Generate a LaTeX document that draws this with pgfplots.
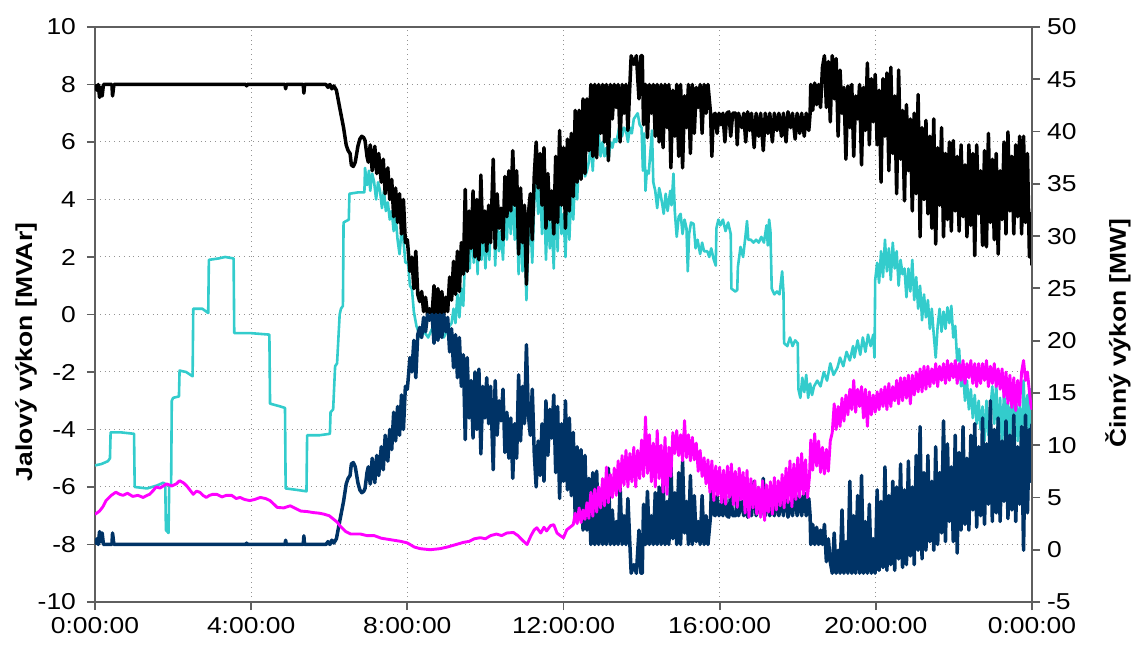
\documentclass[border=0pt]{standalone}
\usepackage{fontspec}
\setmainfont{Liberation Sans}[FakeStretch=1.15]
\usepackage{pgfplots}
\pgfplotsset{compat=1.18}
\usepackage{pgfplotstable}
\definecolor{cyanL}{RGB}{51,204,204}
\definecolor{navyL}{RGB}{0,51,102}
\definecolor{magL}{RGB}{255,0,255}
\definecolor{axgray}{RGB}{95,95,95}

\pgfplotstableread{
t v
0 8
3 7.8
5 8
7 7.55
9 7.9
11 7.6
13 8
26 8
27 7.6
29 8
232 8
233 7.95
234 8
292 8
293 7.85
294 8
320 8
321 7.7
322 8
355 8
358 7.9
361 8
364 7.85
367 7.95
371 7.8
376 7.2
382 6.5
386 5.9
389 5.7
392 5.6
394 5.2
397 5.15
400 5.3
404 5.85
407 6.1
410 6.2
413 6.15
415 6.05
418 5.5
420 5.3
423 5.9
426 5.0
430 5.85
433 4.9
436 5.6
440 4.6
443 5.4
446 4.2
450 5.1
453 4.0
456 4.7
459 3.4
462 4.4
465 3.2
468 4.2
471 2.8
474 4.0
477 2.5
480 2.6
484 1.5
487 2.0
490 0.9
493 2.2
496 0.7
499 0.45
502 0.8
505 0.1
508 0.6
511 0
514 0.2
518 0
521 1.0
524 0
527 0.9
530 0
533 0.8
536 0
539 0.6
542 0.1
545 1.3
548 0.5
551 1.85
554 0.7
557 2.2
560 0.8
563 2.5
566 1.4
569 4.35
572 1.5
575 3.6
578 2.3
581 4.3
584 2.0
587 4.0
590 1.9
593 4.85
596 2.5
599 3.6
602 2.2
605 3.8
608 2.5
612 5.4
615 2.3
618 4.2
621 3.0
624 3.7
627 2.6
630 4.8
633 3.4
636 5.0
639 3.6
642 5.7
645 3.8
648 5.0
651 2.1
654 4.4
657 2.5
660 3.8
663 1.05
666 3.5
669 4.2
672 2.6
675 4.8
678 6.0
681 4.4
684 5.6
687 3.8
690 5.8
693 3.0
696 4.9
699 3.3
702 4.3
705 2.8
708 5.5
711 3.2
714 6.4
717 3.8
720 5.8
723 3.0
726 6.1
729 3.6
732 6.3
735 4.1
738 7.1
741 4.6
744 7.1
747 4.7
750 7.5
753 4.9
756 7.5
759 5.7
762 8.0
765 5.5
768 8.0
771 5.45
774 8.0
777 6.3
780 8.0
783 6.0
786 8.0
789 5.35
792 8.0
795 6.8
798 8.0
801 7.2
804 8.0
807 6.0
810 8.0
813 7.0
816 8.0
819 6.4
822 8.0
824 9.0
828 8.7
832 9.0
836 7.5
839 9.0
841 9.0
843 6.6
846 8.0
849 6.15
852 8.0
855 7.0
858 8.0
861 6.2
864 8.0
867 6.0
870 8.0
873 5.8
876 8.0
879 6.5
882 8.0
885 5.1
888 7.8
891 6.2
894 8.0
897 5.5
900 8.0
903 5.1
906 7.6
909 6.5
912 8.0
915 5.6
918 8.0
921 6.3
924 7.9
927 7.2
930 8.0
933 6.3
936 8.0
939 7.0
942 8.0
944 7.5
946 7.0
948 5.5
950 6.9
953 7.0
956 6.3
959 7.0
962 6.6
965 7.0
968 6.0
971 7.0
974 7.05
977 6.2
980 7.0
985 7.0
987 5.9
989 7.0
994 6.5
997 7.0
1000 6.0
1003 7.05
1006 6.4
1009 7.0
1013 5.8
1016 7.0
1020 6.2
1023 7.0
1027 5.7
1030 7.0
1034 6.3
1037 7.0
1041 6.0
1044 7.0
1048 6.4
1051 7.0
1055 6.2
1058 7.0
1062 6.0
1065 7.05
1069 6.5
1072 7.0
1076 6.1
1079 7.0
1083 6.3
1086 7.0
1090 6.2
1093 7.0
1097 6.4
1099 7.0
1100 8.0
1103 7.1
1106 8.05
1109 7.3
1112 8.0
1115 7.2
1118 8.6
1121 9.0
1124 7.2
1127 8.8
1130 6.7
1133 9.0
1136 7.5
1139 8.9
1142 6.2
1145 8.5
1148 7.0
1151 7.9
1154 5.4
1157 7.95
1160 6.5
1163 8.0
1166 5.5
1169 7.6
1172 6.8
1175 8.0
1178 5.2
1181 7.9
1184 6.4
1187 8.75
1190 5.9
1193 8.2
1196 6.7
1199 8.35
1202 5.9
1205 7.8
1208 4.6
1211 8.2
1214 6.2
1217 8.4
1220 5.0
1223 8.6
1226 5.6
1229 7.6
1232 4.2
1235 8.5
1238 5.4
1241 7.1
1244 3.95
1247 7.3
1250 5.0
1253 6.8
1256 3.6
1259 7.0
1262 4.2
1265 7.65
1268 2.7
1271 6.5
1274 4.0
1277 6.75
1280 3.5
1283 6.2
1286 3.0
1289 6.8
1292 2.45
1295 5.8
1298 3.8
1301 6.5
1304 2.7
1307 5.6
1310 3.3
1313 6.0
1316 2.9
1319 6.05
1322 3.6
1325 5.5
1328 2.9
1331 5.9
1334 3.4
1337 5.2
1340 2.7
1343 5.9
1346 3.1
1349 5.6
1352 2.05
1355 5.9
1358 3.5
1361 5.0
1364 2.4
1367 5.7
1370 2.35
1373 6.3
1376 3.2
1379 5.4
1382 2.6
1385 5.6
1388 2.1
1391 5.0
1394 3.3
1397 6.0
1400 2.8
1403 6.35
1406 3.6
1409 5.5
1412 2.8
1415 5.9
1418 3.4
1421 6.2
1424 2.8
1427 6.2
1430 3.2
1433 5.6
1436 2.0
1438 3.5
1440 1.7
}\tblack

\pgfplotstableread{
t v
0 -8
3 -7.8
5 -8
7 -7.55
9 -7.9
11 -7.6
13 -8
26 -8
27 -7.6
29 -8
232 -8
233 -7.95
234 -8
292 -8
293 -7.85
294 -8
320 -8
321 -7.7
322 -8
355 -8
358 -7.9
361 -8
364 -7.85
367 -7.95
371 -7.8
376 -7.2
382 -6.5
386 -5.9
389 -5.7
392 -5.6
394 -5.2
397 -5.15
400 -5.3
404 -5.85
407 -6.1
410 -6.2
413 -6.15
415 -6.05
418 -5.5
420 -5.3
423 -5.9
426 -5.0
430 -5.85
433 -4.9
436 -5.6
440 -4.6
443 -5.4
446 -4.2
450 -5.1
453 -4.0
456 -4.7
459 -3.4
462 -4.4
465 -3.2
468 -4.2
471 -2.8
474 -4.0
477 -2.5
480 -2.6
484 -1.5
487 -2.0
490 -0.9
493 -2.2
496 -0.7
499 -0.45
502 -0.8
505 -0.1
508 -0.6
511 0
514 -0.2
518 0
521 -1.0
524 0
527 -0.9
530 0
533 -0.8
536 0
539 -0.6
542 -0.1
545 -1.3
548 -0.5
551 -1.85
554 -0.7
557 -2.2
560 -0.8
563 -2.5
566 -1.4
569 -4.35
572 -1.5
575 -3.6
578 -2.3
581 -4.3
584 -2.0
587 -4.0
590 -1.9
593 -4.85
596 -2.5
599 -3.6
602 -2.2
605 -3.8
608 -2.5
612 -5.4
615 -2.3
618 -4.2
621 -3.0
624 -3.7
627 -2.6
630 -4.8
633 -3.4
636 -5.0
639 -3.6
642 -5.7
645 -3.8
648 -5.0
651 -2.1
654 -4.4
657 -2.5
660 -3.8
663 -1.05
666 -3.5
669 -4.2
672 -2.6
675 -4.8
678 -6.0
681 -4.4
684 -5.6
687 -3.8
690 -5.8
693 -3.0
696 -4.9
699 -3.3
702 -4.3
705 -2.8
708 -5.5
711 -3.2
714 -6.4
717 -3.8
720 -5.8
723 -3.0
726 -6.1
729 -3.6
732 -6.3
735 -4.1
738 -7.1
741 -4.6
744 -7.1
747 -4.7
750 -7.5
753 -4.9
756 -7.5
759 -5.7
762 -8.0
765 -5.5
768 -8.0
771 -5.45
774 -8.0
777 -6.3
780 -8.0
783 -6.0
786 -8.0
789 -5.35
792 -8.0
795 -6.8
798 -8.0
801 -7.2
804 -8.0
807 -6.0
810 -8.0
813 -7.0
816 -8.0
819 -6.4
822 -8.0
824 -9.0
828 -8.7
832 -9.0
836 -7.5
839 -9.0
841 -9.0
843 -6.6
846 -8.0
849 -6.15
852 -8.0
855 -7.0
858 -8.0
861 -6.2
864 -8.0
867 -6.0
870 -8.0
873 -5.8
876 -8.0
879 -6.5
882 -8.0
885 -5.1
888 -7.8
891 -6.2
894 -8.0
897 -5.5
900 -8.0
903 -5.1
906 -7.6
909 -6.5
912 -8.0
915 -5.6
918 -8.0
921 -6.3
924 -7.9
927 -7.2
930 -8.0
933 -6.3
936 -8.0
939 -7.0
942 -8.0
944 -7.5
946 -7.0
948 -5.5
950 -6.9
953 -7.0
956 -6.3
959 -7.0
962 -6.6
965 -7.0
968 -6.0
971 -7.0
974 -7.05
977 -6.2
980 -7.0
985 -7.0
987 -5.9
989 -7.0
994 -6.5
997 -7.0
1000 -6.0
1003 -7.05
1006 -6.4
1009 -7.0
1013 -5.8
1016 -7.0
1020 -6.2
1023 -7.0
1027 -5.7
1030 -7.0
1034 -6.3
1037 -7.0
1041 -6.0
1044 -7.0
1048 -6.4
1051 -7.0
1055 -6.2
1058 -7.0
1062 -6.0
1065 -7.05
1069 -6.5
1072 -7.0
1076 -6.1
1079 -7.0
1083 -6.3
1086 -7.0
1090 -6.2
1093 -7.0
1097 -6.4
1099 -7.0
1100 -8.0
1103 -7.3
1106 -8.0
1109 -7.4
1112 -8.0
1115 -7.5
1118 -8.0
1121 -7.3
1124 -8.6
1127 -7.8
1130 -8.6
1133 -9.0
1136 -7.6
1139 -9.0
1142 -8.2
1145 -9.0
1148 -6.8
1151 -9.0
1154 -7.9
1157 -9.0
1160 -5.8
1163 -9.0
1166 -7.0
1169 -9.0
1172 -6.3
1175 -9.0
1178 -5.6
1181 -9.0
1184 -7.2
1187 -9.0
1190 -6.6
1193 -9.0
1196 -7.8
1199 -9.0
1202 -6.1
1205 -8.9
1208 -6.5
1211 -8.8
1214 -5.3
1217 -8.9
1220 -6.3
1223 -8.7
1226 -5.8
1229 -8.9
1232 -6.0
1235 -8.5
1238 -5.2
1241 -8.8
1244 -6.1
1247 -8.7
1250 -5.1
1253 -8.4
1256 -6.0
1259 -8.7
1262 -4.9
1265 -8.2
1268 -3.9
1271 -8.5
1274 -5.5
1277 -8.2
1280 -4.9
1283 -7.9
1286 -5.8
1289 -8.2
1292 -4.6
1295 -8.0
1298 -5.5
1301 -7.6
1304 -3.7
1307 -7.9
1310 -4.5
1313 -7.2
1316 -5.3
1319 -7.9
1322 -4.2
1325 -8.3
1328 -4.8
1331 -7.5
1334 -3.9
1337 -7.3
1340 -5.0
1343 -7.5
1346 -4.2
1349 -6.8
1352 -3.8
1355 -7.4
1358 -4.6
1361 -7.0
1364 -3.6
1367 -7.3
1370 -4.5
1373 -6.6
1376 -3.0
1379 -7.2
1382 -4.0
1385 -6.9
1388 -3.6
1391 -7.2
1394 -4.4
1397 -6.5
1400 -3.7
1403 -7.1
1406 -4.2
1409 -6.8
1412 -3.5
1415 -7.2
1418 -4.6
1421 -6.6
1424 -3.9
1427 -8.2
1430 -3.5
1433 -6.9
1436 -4.0
1438 -5.8
1440 -3.8
}\tnavy

\pgfplotstableread{
t v
0 -5.25
10 -5.2
20 -5.1
23 -5.0
24 -4.1
40 -4.1
60 -4.15
61 -6.0
80 -6.05
95 -5.95
105 -5.85
108 -5.9
109 -7.5
113 -7.6
114 -6.0
117 -5.9
118 -3.0
120 -2.9
129 -2.85
130 -1.95
140 -2.0
150 -2.15
151 0.2
165 0.2
174 0.05
175 1.9
190 1.95
200 2.0
213 1.95
214 -0.65
240 -0.65
268 -0.7
269 -3.1
285 -3.2
292 -3.25
293 -6.05
310 -6.1
325 -6.15
326 -4.2
345 -4.2
361 -4.15
362 -3.4
366 -3.3
369 -1.8
372 -1.7
376 0
378 0.2
381 0.3
382 3.2
390 3.3
391 4.2
405 4.25
414 4.25
415 5.1
418 4.5
421 5.0
423 4.3
426 4.9
429 4.6
432 4.0
435 4.6
438 4.3
441 3.7
444 4.3
447 3.6
450 3.9
453 3.3
456 3.6
459 2.9
462 3.4
465 2.6
468 2.1
471 2.9
474 2.6
477 1.8
481 1.8
484 1.0
487 0.9
490 0.1
494 -0.4
500 -0.8
506 -0.6
512 -0.8
518 -0.5
524 -0.75
530 -0.6
536 -0.8
542 -0.5
548 -0.3
551 0.2
554 -0.3
557 0.7
560 -0.1
563 0.9
566 0.3
569 2.3
570 1.8
573 3.0
576 1.6
579 3.5
582 1.8
585 3.3
588 1.4
591 3.9
594 1.9
597 3.0
600 1.6
603 3.1
606 1.9
609 3.6
612 4.5
615 1.7
618 3.4
621 2.2
624 2.9
627 1.9
630 3.9
633 2.6
636 4.1
639 2.8
642 4.3
645 2.6
648 3.9
651 1.4
654 3.5
657 1.5
660 2.9
663 0.5
666 2.6
669 3.3
672 1.8
675 3.9
678 4.9
681 3.5
684 4.6
687 2.8
690 4.6
693 1.9
696 3.8
699 2.3
702 3.3
705 1.6
708 4.4
711 2.2
714 5.0
717 2.8
720 3.5
723 2.0
726 4.0
729 2.6
732 4.4
735 3.3
738 5.0
741 4.0
744 5.6
747 4.9
750 5.4
753 4.8
756 5.0
759 5.3
762 6.0
765 5.0
768 6.5
771 5.6
774 6.3
777 5.5
780 6.0
783 5.5
786 5.8
789 5.35
792 6.0
795 5.8
798 6.1
801 6.0
804 6.3
807 6.7
810 6.2
813 6.5
816 6.4
819 6.0
822 6.5
825 6.3
828 6.8
831 6.9
834 7.0
837 6.6
840 6.5
842 5.0
844 6.3
846 4.3
848 5.0
851 4.9
854 5.8
856 6.4
858 4.6
861 4.3
864 3.7
867 4.4
869 4.2
872 3.8
874 3.5
877 4.2
880 3.6
884 4.3
886 3.8
889 4.9
891 3.6
894 2.7
897 3.4
900 3.5
903 2.8
906 3.3
909 3.0
911 1.5
913 2.8
916 3.2
920 3.15
923 2.3
926 2.6
930 2.1
933 2.5
936 2.2
941 2.2
944 2.0
947 2.3
951 1.9
954 1.7
955 3.0
958 3.3
961 3.1
965 3.3
969 2.9
973 3.2
977 2.8
978 0.9
984 0.8
987 0.85
988 1.65
992 2.35
996 2.0
1000 2.8
1002 3.25
1004 2.6
1008 2.6
1012 2.5
1016 2.6
1020 2.5
1024 2.7
1028 2.5
1032 3.1
1034 2.4
1036 3.3
1038 2.9
1040 0.9
1044 0.7
1048 0.8
1052 0.7
1054 1.1
1056 1.5
1058 0.8
1059 -1.0
1064 -1.1
1068 -0.8
1072 -1.1
1076 -0.9
1080 -1.0
1081 -2.6
1084 -2.9
1087 -2.2
1090 -2.7
1093 -2.1
1096 -2.9
1099 -2.4
1102 -2.8
1105 -2.5
1110 -2.3
1115 -2.5
1120 -2.0
1125 -2.3
1130 -1.7
1135 -2.1
1141 -1.85
1145 -1.5
1150 -1.8
1155 -1.3
1160 -1.6
1165 -1.1
1167 -1.5
1172 -0.9
1176 -1.4
1180 -0.8
1184 -1.3
1188 -0.7
1192 -1.1
1196 -0.7
1198 -1.5
1199 1.2
1202 1.8
1205 1.1
1208 2.2
1211 1.3
1214 2.6
1217 1.5
1220 2.3
1223 1.2
1226 2.5
1229 1.6
1232 2.2
1235 1.0
1238 1.9
1241 1.4
1244 1.6
1247 0.6
1250 1.6
1253 0.8
1256 1.9
1259 0.5
1262 1.3
1265 0.2
1268 1.0
1271 -0.2
1274 0.7
1277 -0.1
1280 0.5
1283 -0.5
1286 0.2
1289 -0.7
1292 -1.5
1295 -0.4
1298 0.2
1301 -0.6
1304 0.1
1307 -0.5
1310 0.25
1313 -0.3
1316 0.3
1319 -0.8
1322 -0.4
1325 -1.6
1328 -1.2
1331 -2.5
1334 -2.0
1337 -3.0
1340 -2.3
1343 -3.3
1346 -2.6
1349 -3.6
1352 -2.8
1355 -3.8
1358 -3.0
1361 -4.0
1364 -3.2
1367 -4.4
1370 -3.0
1373 -4.2
1376 -3.3
1379 -2.5
1382 -3.8
1385 -2.4
1388 -4.3
1391 -2.9
1394 -4.6
1397 -2.6
1400 -4.0
1403 -3.0
1406 -4.5
1409 -2.7
1412 -3.9
1415 -2.5
1418 -4.4
1421 -3.2
1424 -4.8
1427 -2.3
1430 -4.0
1433 -2.8
1436 -4.5
1438 -2.6
1440 -3.3
}\tcyan

\pgfplotstableread{
t v
0 3.4
2 3.47
7 3.7
12 4.1
17 4.7
25 5.2
32 5.5
38 5.3
43 5.2
50 5.4
58 5.1
66 5.2
74 5.0
80 5.2
84 5.3
90 5.7
94 6.0
100 5.9
110 6.3
118 6.1
125 6.3
130 6.6
136 6.4
141 6.1
146 5.7
151 5.3
156 5.6
161 5.5
166 5.2
171 5.0
176 5.2
181 5.3
187 5.3
195 5.05
202 5.2
210 5.2
217 4.9
223 5.0
230 4.8
238 4.7
245 4.8
254 5.0
262 4.9
269 4.7
275 4.35
280 4.05
290 4.0
300 4.2
308 3.95
316 3.7
326 3.65
336 3.55
344 3.5
352 3.4
360 3.25
367 2.9
372 2.65
377 2.25
385 1.75
393 1.5
400 1.5
408 1.5
418 1.35
429 1.35
440 1.1
450 1.0
460 0.9
470 0.8
480 0.65
491 0.25
500 0.1
515 0.0
530 0.1
541 0.25
555 0.5
566 0.7
575 0.8
583 1.05
592 1.15
600 1.05
608 1.35
617 1.5
625 1.35
633 1.6
643 1.65
650 1.35
657 0.9
664 0.5
670 1.35
675 1.9
679 2.1
685 1.6
690 2.15
694 1.8
700 2.3
705 2.4
710 1.6
715 1.35
720 1.15
725 1.9
730 2.15
735 2.4
738 3.5
741 2.5
744 4.0
747 2.6
750 3.8
753 2.9
756 4.5
759 3.0
762 5.5
765 3.2
768 5.8
771 3.6
774 6.0
777 4.0
780 6.8
783 4.2
786 7.9
789 4.5
792 7.2
795 5.0
798 7.8
801 5.2
804 8.5
807 5.6
810 9.0
813 6.2
816 9.5
819 6.0
822 9.2
825 6.5
828 9.8
831 6.0
834 9.5
837 6.8
840 10.5
843 7.0
846 12.7
849 7.3
852 11.0
855 6.5
858 10.2
861 6.0
864 11.4
867 6.8
870 10.0
873 5.5
876 10.75
879 5.3
882 9.8
885 7.0
888 11.2
891 9.2
894 11.4
897 9.0
900 11.0
903 8.5
906 12.35
909 8.8
912 11.0
915 8.5
918 10.75
921 8.6
924 10.2
927 7.5
930 9.5
933 7.0
936 8.8
939 6.3
942 8.6
945 5.5
948 8.5
951 4.7
954 8.0
957 5.2
960 7.9
963 4.5
966 7.6
969 4.35
972 8.0
975 5.0
978 8.2
981 4.3
984 7.5
987 4.05
990 7.8
993 4.8
996 7.4
999 3.5
1002 7.6
1005 3.1
1008 6.8
1011 4.0
1014 6.6
1017 3.4
1020 6.0
1023 3.1
1026 6.6
1029 2.8
1032 6.2
1035 3.6
1038 6.5
1041 3.4
1044 6.9
1047 3.8
1050 6.6
1053 4.2
1056 7.2
1059 4.0
1062 7.8
1065 4.5
1068 8.5
1071 4.1
1074 8.2
1077 4.8
1080 8.8
1083 5.0
1086 9.2
1089 5.3
1092 8.6
1095 5.0
1098 7.0
1100 10.5
1103 7.6
1106 11.1
1109 8.0
1112 10.4
1115 7.4
1118 9.8
1121 7.25
1124 9.6
1127 7.5
1130 10.4
1133 11.2
1136 13.95
1139 11.5
1142 13.7
1145 11.8
1148 14.5
1151 12.3
1154 14.8
1157 12.9
1160 15.35
1163 13.4
1166 16.2
1169 13.15
1172 15.35
1175 13.7
1178 15.6
1181 12.6
1184 15.35
1187 11.8
1190 15.1
1193 12.9
1196 14.8
1199 13.15
1202 15.1
1205 13.4
1208 15.35
1211 13.7
1214 15.6
1217 13.4
1220 15.9
1223 13.7
1226 15.6
1229 14.25
1232 16.2
1235 13.95
1238 16.45
1241 14.25
1244 16.45
1247 14.5
1250 16.7
1253 13.95
1256 16.7
1259 14.8
1262 17.0
1265 15.1
1268 17.3
1271 15.1
1274 17.55
1277 15.35
1280 17.55
1283 15.6
1286 17.3
1289 15.9
1292 17.8
1295 15.6
1298 17.55
1301 16.2
1304 17.8
1307 15.9
1310 18.1
1313 16.2
1316 17.8
1319 16.45
1322 18.1
1325 15.9
1328 17.8
1331 16.2
1334 18.1
1337 15.9
1340 17.8
1343 16.45
1346 18.1
1349 15.9
1352 17.8
1355 15.6
1358 17.8
1361 15.9
1364 17.8
1367 16.2
1370 18.1
1373 15.6
1376 17.55
1379 15.9
1382 17.8
1385 15.6
1388 17.3
1391 15.35
1394 17.3
1397 14.6
1400 17.0
1403 14.0
1406 16.7
1409 13.6
1412 16.45
1415 13.3
1418 16.2
1421 13.8
1424 17.0
1427 18.1
1430 16.2
1433 17.0
1436 15.1
1438 13.95
1440 13.4
}\tmag

\begin{document}
\begin{tikzpicture}
\pgfplotsset{
  common/.style={
    scale only axis, width=468.5pt, height=287.5pt,
    xmin=0, xmax=1440,
    tick align=outside, major tick length=4pt,
    tick style={axgray, line width=0.9pt},
    axis line style={axgray, line width=1pt},
    ticklabel style={font=\fontsize{11.5}{13}\selectfont},
  }
}
\begin{axis}[common, name=ax,
  ymin=-10, ymax=10,
  xtick={0,240,480,720,960,1200,1440},
  xticklabels={0:00:00,4:00:00,8:00:00,12:00:00,16:00:00,20:00:00,0:00:00},
  ytick={-10,-8,-6,-4,-2,0,2,4,6,8,10},
  yticklabels={-10,-8,-6,-4,-2,0,2,4,6,8,10},
  yticklabel style={xshift=-2pt},
  xtick pos=left, ytick pos=left,
  grid=major,
  major grid style={dotted, gray!85, line width=0.5pt},
]
\addplot[cyanL, line width=1.3pt, line join=round] table[x=t,y=v]{\tcyan};
\addplot[black, line width=1.75pt, line join=round] table[x=t,y=v]{\tblack};
\addplot[navyL, line width=1.75pt, line join=round] table[x=t,y=v]{\tnavy};
\end{axis}
\begin{axis}[common,
  ymin=-5, ymax=50,
  axis y line*=right, axis x line=none,
  ytick={-5,0,5,10,15,20,25,30,35,40,45,50},
  yticklabels={-5,0,5,10,15,20,25,30,35,40,45,50},
]
\addplot[magL, line width=1.45pt, line join=round] table[x=t,y=v]{\tmag};
\end{axis}
\node[rotate=90, font=\fontsize{11.5}{13}\selectfont\bfseries] at ([xshift=-34.5pt,yshift=125pt]ax.south west) {Jalový výkon [MVAr]};
\node[rotate=90, font=\fontsize{11.5}{13}\selectfont\bfseries] at ([xshift=43pt,yshift=134.5pt]ax.south east) {Činný výkon [MW]};
\pgfresetboundingbox
\path ([xshift=-47.5pt,yshift=-22pt]ax.south west) rectangle ([xshift=53pt,yshift=13.5pt]ax.north east);
\end{tikzpicture}
\end{document}
